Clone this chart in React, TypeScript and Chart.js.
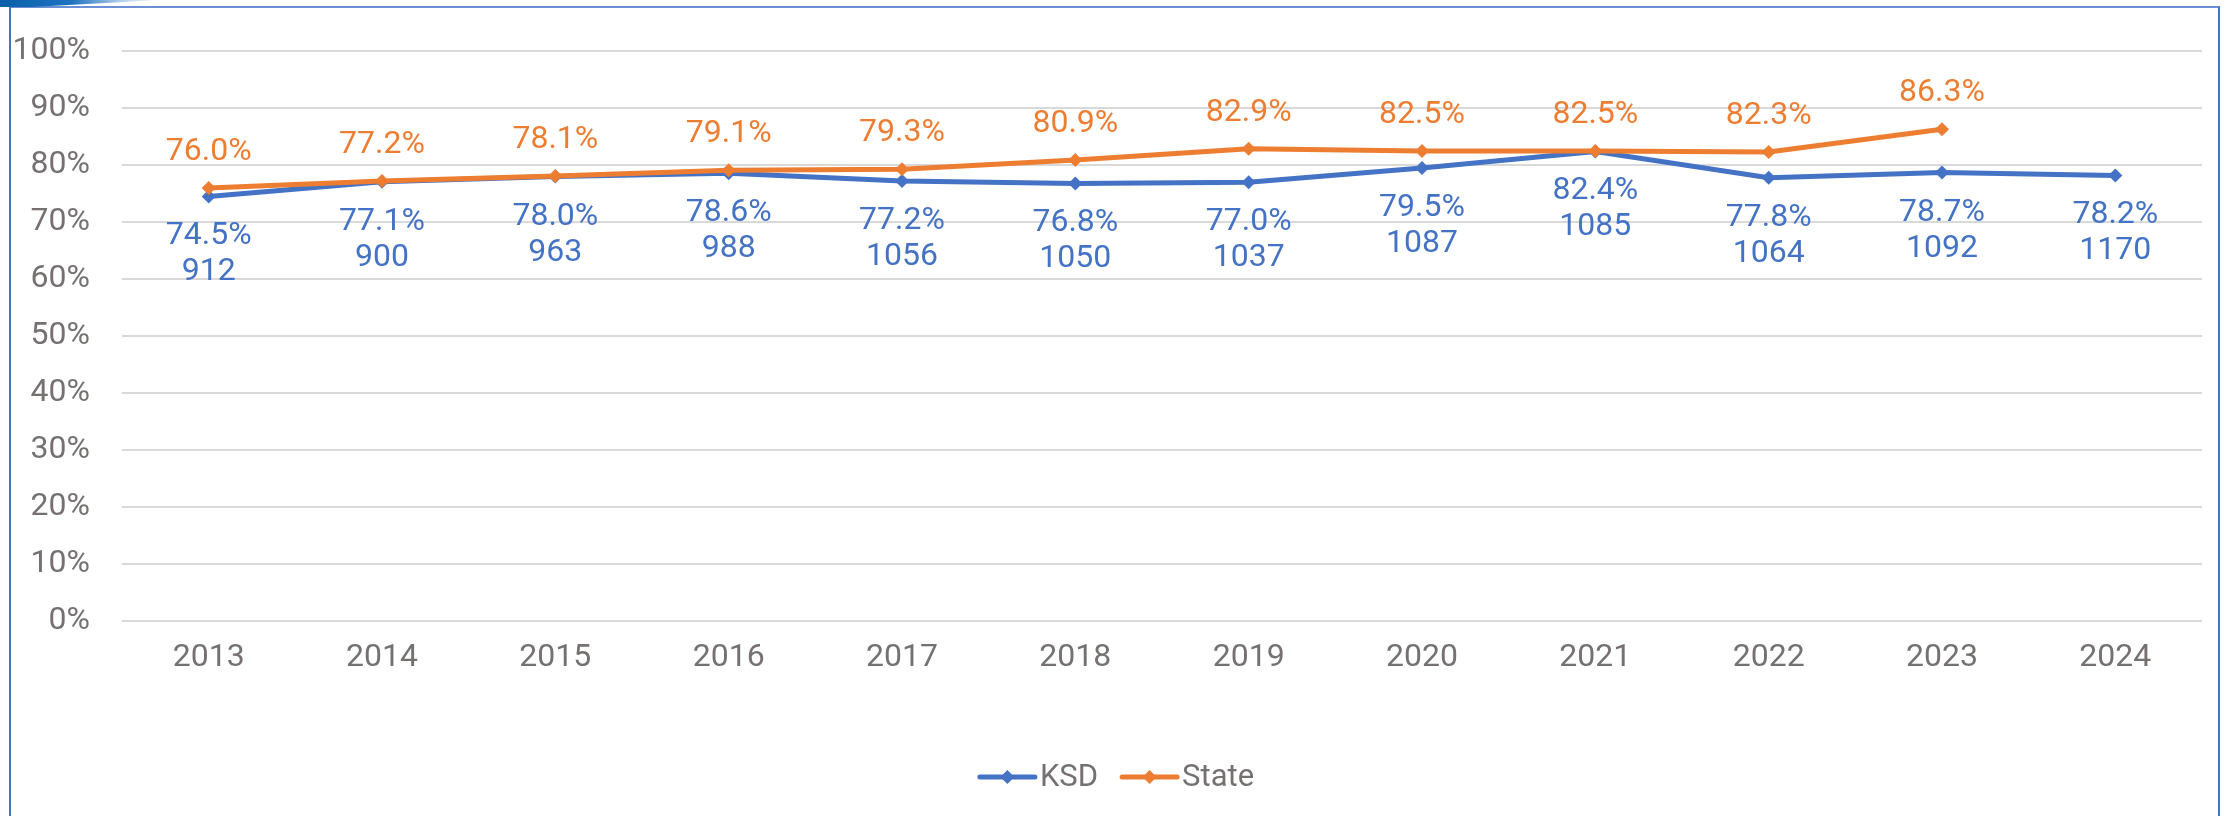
import React, { useEffect, useRef } from "react";
import { Chart, registerables } from "chart.js";

Chart.register(...registerables);

const years = ["2013", "2014", "2015", "2016", "2017", "2018", "2019", "2020", "2021", "2022", "2023", "2024"];
const ksdRates = [74.5, 77.1, 78.0, 78.6, 77.2, 76.8, 77.0, 79.5, 82.4, 77.8, 78.7, 78.2];
const ksdCounts = [912, 900, 963, 988, 1056, 1050, 1037, 1087, 1085, 1064, 1092, 1170];
const stateRates = [76.0, 77.2, 78.1, 79.1, 79.3, 80.9, 82.9, 82.5, 82.5, 82.3, 86.3, null];
const yTicks = [0, 10, 20, 30, 40, 50, 60, 70, 80, 90, 100];

const BLUE = "#4472C4";
const ORANGE = "#ED7D31";
const GRAY = "#767171";
const FONT_FAMILY = "Roboto";
const FONT_SIZE = 32;

const labelsPlugin = {
  id: "valueLabels",
  afterDatasetsDraw(chart: any) {
    const ctx = chart.ctx;
    ctx.save();
    ctx.font = `${FONT_SIZE}px ${FONT_FAMILY}`;
    ctx.textAlign = "center";
    ctx.textBaseline = "middle";
    chart.data.datasets.forEach((ds: any, di: number) => {
      const meta = chart.getDatasetMeta(di);
      meta.data.forEach((pt: any, i: number) => {
        const v = ds.data[i];
        if (v === null || v === undefined) return;
        if (ds.label === "State") {
          ctx.fillStyle = ORANGE;
          ctx.fillText(v.toFixed(1) + "%", pt.x, pt.y - 36);
        } else {
          ctx.fillStyle = BLUE;
          ctx.fillText(v.toFixed(1) + "%", pt.x, pt.y + 40);
          ctx.fillText(String(ksdCounts[i]), pt.x, pt.y + 76);
        }
      });
    });
    ctx.restore();
  },
};

const legendPlugin = {
  id: "customLegend",
  afterDraw(chart: any) {
    const ctx = chart.ctx;
    ctx.save();
    ctx.font = `${FONT_SIZE - 1}px ${FONT_FAMILY}`;
    const items = [
      { label: "KSD", color: BLUE },
      { label: "State", color: ORANGE },
    ];
    const lineLen = 55;
    const gapLineText = 5;
    const gapItems = 24;
    const widths = items.map((it) => ctx.measureText(it.label).width);
    const total = items.reduce((s, it, i) => s + lineLen + gapLineText + widths[i], 0) + gapItems * (items.length - 1);
    let x = chart.width / 2 - total / 2;
    const y = 777;
    items.forEach((it, i) => {
      ctx.strokeStyle = it.color;
      ctx.lineWidth = 5;
      ctx.lineCap = "round";
      ctx.beginPath();
      ctx.moveTo(x, y);
      ctx.lineTo(x + lineLen, y);
      ctx.stroke();
      const cx = x + lineLen / 2;
      ctx.fillStyle = it.color;
      ctx.beginPath();
      ctx.moveTo(cx, y - 7);
      ctx.lineTo(cx + 7, y);
      ctx.lineTo(cx, y + 7);
      ctx.lineTo(cx - 7, y);
      ctx.closePath();
      ctx.fill();
      ctx.fillStyle = GRAY;
      ctx.textAlign = "left";
      ctx.textBaseline = "middle";
      ctx.fillText(it.label, x + lineLen + gapLineText, y + 1);
      x += lineLen + gapLineText + widths[i] + gapItems;
    });
    ctx.restore();
  },
};

export default function App() {
  const canvasRef = useRef<HTMLCanvasElement | null>(null);

  useEffect(() => {
    document.body.style.margin = "0";
    const canvas = canvasRef.current;
    if (!canvas) return;
    const chart = new Chart(canvas, {
      type: "line",
      data: {
        labels: years,
        datasets: [
          {
            label: "KSD",
            data: ksdRates,
            borderColor: BLUE,
            backgroundColor: BLUE,
            borderWidth: 5,
            pointStyle: "rectRot",
            pointRadius: 7,
            pointBorderWidth: 0,
            tension: 0,
            order: 2,
          },
          {
            label: "State",
            data: stateRates,
            borderColor: ORANGE,
            backgroundColor: ORANGE,
            borderWidth: 5,
            pointStyle: "rectRot",
            pointRadius: 7,
            pointBorderWidth: 0,
            tension: 0,
            spanGaps: false,
            order: 1,
          },
        ],
      },
      options: {
        responsive: false,
        animation: false,
        devicePixelRatio: 1,
        layout: { padding: { left: 0, right: 32, top: 48, bottom: 0 } },
        plugins: {
          legend: { display: false },
          tooltip: { enabled: false },
        },
        scales: {
          x: {
            type: "category",
            offset: true,
            grid: { display: false, drawTicks: false },
            border: { display: false },
            ticks: {
              color: GRAY,
              font: { family: FONT_FAMILY, size: FONT_SIZE },
              padding: 18,
              maxRotation: 0,
            },
            afterFit(scale: any) {
              scale.height = 195;
            },
          },
          y: {
            min: 0,
            max: 100,
            afterBuildTicks(scale: any) {
              scale.ticks = yTicks.map((v) => ({ value: v }));
            },
            grid: { color: "#D9D9D9", lineWidth: 2, drawTicks: false },
            border: { display: false },
            ticks: {
              color: GRAY,
              font: { family: FONT_FAMILY, size: FONT_SIZE },
              padding: 32,
              callback: (v: any) => v + "%",
            },
            afterFit(scale: any) {
              scale.width = 122;
            },
          },
        },
      },
      plugins: [labelsPlugin, legendPlugin],
    });
    return () => chart.destroy();
  }, []);

  return (
    <div style={{ position: "relative", width: 2234, height: 816, overflow: "hidden", background: "#fff" }}>
      <canvas ref={canvasRef} width={2234} height={816} style={{ position: "absolute", left: 0, top: 0, width: 2234, height: 816 }} />
      <div
        style={{
          position: "absolute",
          left: 9,
          top: 6,
          width: 2211,
          height: 830,
          border: "2px solid #4472C4",
          borderTopColor: "#6A8FD4",
          boxSizing: "border-box",
          pointerEvents: "none",
        }}
      />
      <div
        style={{
          position: "absolute",
          left: 0,
          top: 0,
          width: 160,
          height: 7,
          background: "linear-gradient(90deg, #0B5FA8 0%, #1E74C0 45%, rgba(120,170,220,0.6) 75%, rgba(255,255,255,0) 100%)",
          clipPath: "polygon(0 0, 100% 0, 20% 100%, 0 100%)",
          pointerEvents: "none",
        }}
      />
    </div>
  );
}
